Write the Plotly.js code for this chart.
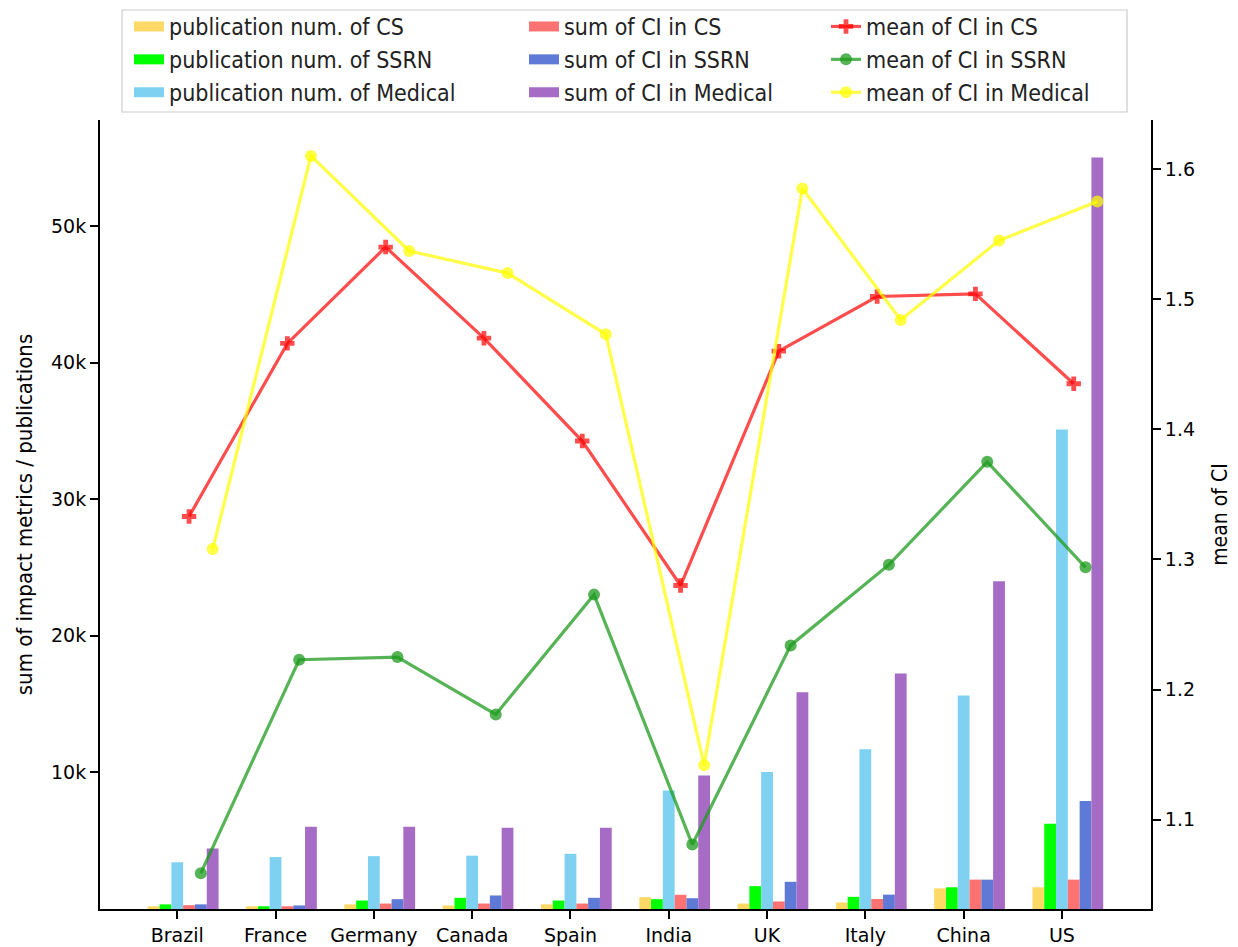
<!DOCTYPE html>
<html><head><meta charset="utf-8">
<script src="https://cdn.plot.ly/plotly-3.0.1.min.js"></script>
<style>body{margin:0;background:#fff}</style>
</head><body><div id="chart" style="width:1238px;height:947px"></div>
<script>
// ---- data ----
const countries = ['Brazil','France','Germany','Canada','Spain','India','UK','Italy','China','US'];
const pubCS        = [200, 200, 340, 260, 340, 865, 400, 480, 1510, 1590];
const pubSSRN      = [340, 200, 620, 820, 620, 720, 1670, 890, 1590, 6240];
const pubMedical   = [3420, 3800, 3870, 3900, 4040, 8680, 10020, 11690, 15620, 35100];
const ciSumCS      = [280, 200, 400, 400, 400, 1040, 550, 730, 2150, 2150];
const ciSumSSRN    = [340, 260, 720, 990, 820, 790, 1990, 1050, 2150, 7900];
const ciSumMedical = [4430, 6020, 6020, 5950, 5950, 9780, 15860, 17230, 23990, 55000];
const ciMeanCS      = [1.333, 1.466, 1.540, 1.470, 1.391, 1.280, 1.460, 1.502, 1.504, 1.435];
const ciMeanSSRN    = [1.059, 1.223, 1.225, 1.181, 1.273, 1.081, 1.234, 1.296, 1.375, 1.294];
const ciMeanMedical = [1.308, 1.610, 1.537, 1.520, 1.473, 1.142, 1.585, 1.484, 1.545, 1.575];
const yTickVals = [10000, 20000, 30000, 40000, 50000];
const yTickText = ['10k', '20k', '30k', '40k', '50k'];

// ---- styling ----
const W = 0.12;
const idx = countries.map((c, i) => i);
const condensed = "'DejaVu Sans Condensed', 'Liberation Sans Narrow', 'DejaVu Sans', sans-serif";
const tickFont = {family: "'DejaVu Sans', sans-serif", size: 19, color: '#000'};

const barDefs = [
  {name: 'publication num. of CS', y: pubCS, color: '#FFD966', legend: 'legend'},
  {name: 'publication num. of SSRN', y: pubSSRN, color: '#00FF00', legend: 'legend'},
  {name: 'publication num. of Medical', y: pubMedical, color: '#7FD1F2', legend: 'legend'},
  {name: 'sum of CI in CS', y: ciSumCS, color: '#FF7272', legend: 'legend2'},
  {name: 'sum of CI in SSRN', y: ciSumSSRN, color: '#5E7AD6', legend: 'legend2'},
  {name: 'sum of CI in Medical', y: ciSumMedical, color: '#A66BC4', legend: 'legend2'}
];
const traces = [];
barDefs.forEach((b, k) => {
  traces.push({
    type: 'bar', x: idx, y: b.y, width: W, offset: -0.3 + k * W,
    marker: {color: b.color, line: {width: 0}}, name: b.name,
    legendgroup: b.name, showlegend: false, xaxis: 'x', yaxis: 'y', hoverinfo: 'y+name'
  });
  // legend swatch entry (no data drawn)
  traces.push({
    type: 'scatter', mode: 'lines', x: [null], y: [null], name: b.name,
    legendgroup: b.name, legend: b.legend, line: {color: b.color, width: 17},
    xaxis: 'x', yaxis: 'y', hoverinfo: 'skip'
  });
});
const lineDefs = [
  {name: 'mean of CI in CS', y: ciMeanCS, color: 'rgba(255,0,0,0.7)', symbol: 'cross', size: 12, k: 3},
  {name: 'mean of CI in SSRN', y: ciMeanSSRN, color: 'rgba(30,155,30,0.75)', symbol: 'circle', size: 12, k: 4},
  {name: 'mean of CI in Medical', y: ciMeanMedical, color: 'rgba(255,255,0,0.72)', symbol: 'circle', size: 12, k: 5}
];
lineDefs.forEach(l => {
  traces.push({
    type: 'scatter', mode: 'lines+markers', x: idx.map(i => i + (l.k - 2) * W), y: l.y,
    name: l.name, legend: 'legend3', xaxis: 'x', yaxis: 'y2',
    line: {color: l.color, width: 3.2},
    marker: {symbol: l.symbol, size: l.size, color: l.color, line: {width: 0}}
  });
});

// ---- layout ----
const plotL = 100, plotR = 1151, plotT = 120, plotB = 909;
const pw = plotR - plotL, ph = plotB - plotT;
const px2x = p => (p - plotL) / pw;
const px2y = p => (plotB - p) / ph;
const legendCommon = {
  orientation: 'v', xanchor: 'left', yanchor: 'top', bgcolor: 'rgba(0,0,0,0)',
  borderwidth: 0, font: {family: condensed, size: 23, color: '#222'},
  tracegroupgap: 0, itemwidth: 30, y: px2y(5)
};
const layout = {
  width: 1238, height: 947,
  margin: {l: plotL, r: 1238 - plotR, t: plotT, b: 947 - plotB, autoexpand: false},
  paper_bgcolor: '#fff', plot_bgcolor: '#fff',
  barmode: 'overlay', showlegend: true,
  font: {family: "'DejaVu Sans', sans-serif", color: '#000'},
  xaxis: {
    range: [-0.786, 9.906], tickvals: idx, ticktext: countries,
    showgrid: false, zeroline: false, showline: true, linecolor: '#000', linewidth: 2,
    ticks: 'outside', ticklen: 8, tickwidth: 2, tickcolor: '#000', tickfont: tickFont, mirror: false
  },
  yaxis: {
    range: [0, 57750], tickvals: yTickVals, ticktext: yTickText,
    showgrid: false, zeroline: false, showline: true, linecolor: '#000', linewidth: 2,
    ticks: 'outside', ticklen: 8, tickwidth: 2, tickcolor: '#000', tickfont: tickFont,
    title: {text: 'sum of impact metrics / publications', font: {family: condensed, size: 22, color: '#000'}, standoff: 12}
  },
  yaxis2: {
    overlaying: 'y', side: 'right', range: [1.0315, 1.6376], dtick: 0.1, tick0: 1.0, tickformat: '.1f',
    showgrid: false, zeroline: false, showline: true, linecolor: '#000', linewidth: 2,
    ticks: 'outside', ticklen: 8, tickwidth: 2, tickcolor: '#000', tickfont: tickFont,
    title: {text: 'mean of CI', font: {family: condensed, size: 21, color: '#000'}, standoff: 18}
  },
  legend: Object.assign({}, legendCommon, {x: px2x(129)}),
  legend2: Object.assign({}, legendCommon, {x: px2x(524)}),
  legend3: Object.assign({}, legendCommon, {x: px2x(826)}),
  shapes: [{
    type: 'rect', xref: 'paper', yref: 'paper',
    x0: px2x(122), x1: px2x(1127), y0: px2y(112), y1: px2y(10),
    line: {color: '#cccccc', width: 1.2}, fillcolor: 'rgba(0,0,0,0)', layer: 'below'
  }]
};
Plotly.newPlot('chart', traces, layout, {displayModeBar: false, responsive: false});
</script>
</body></html>
